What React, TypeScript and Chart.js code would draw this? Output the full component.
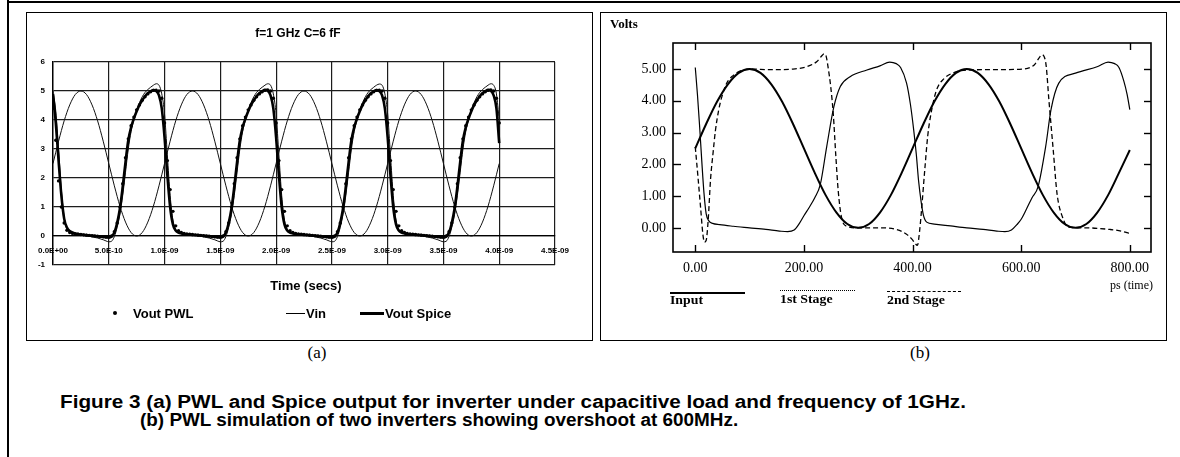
import React, { useEffect, useRef } from "react";
import { Chart, registerables } from "chart.js";

Chart.register(...registerables);

const SANS = "'Liberation Sans', Arial, Helvetica, sans-serif";
const SERIF = "'Liberation Serif', 'Times New Roman', Times, serif";

// ---------------- Figure (a) : f=1 GHz C=6 fF ----------------
const xTicksA = [0, 0.5, 1, 1.5, 2, 2.5, 3, 3.5, 4, 4.5];
const xTickLabelsA = ["0.0E+00", "5.0E-10", "1.0E-09", "1.5E-09", "2.0E-09", "2.5E-09", "3.0E-09", "3.5E-09", "4.0E-09", "4.5E-09"];
const yTicksA = [-1, 0, 1, 2, 3, 4, 5, 6];

// Vin (ns, volts)
const timeVin = [
  0, 0.05, 0.1, 0.15, 0.2, 0.25, 0.3, 0.35, 0.4, 0.45, 0.5, 0.55, 0.6, 0.65, 0.7, 0.75, 0.8, 0.85, 0.9, 0.95,
  1, 1.05, 1.1, 1.15, 1.2, 1.25, 1.3, 1.35, 1.4, 1.45, 1.5, 1.55, 1.6, 1.65, 1.7, 1.75, 1.8, 1.85, 1.9, 1.95,
  2, 2.05, 2.1, 2.15, 2.2, 2.25, 2.3, 2.35, 2.4, 2.45, 2.5, 2.55, 2.6, 2.65, 2.7, 2.75, 2.8, 2.85, 2.9, 2.95,
  3, 3.05, 3.1, 3.15, 3.2, 3.25, 3.3, 3.35, 3.4, 3.45, 3.5, 3.55, 3.6, 3.65, 3.7, 3.75, 3.8, 3.85, 3.9, 3.95,
  4,
];
const vin = [
  2.5, 3.27, 3.97, 4.52, 4.88, 5, 4.88, 4.52, 3.97, 3.27, 2.5, 1.73, 1.03, 0.48, 0.12, 0, 0.12, 0.48, 1.03, 1.73,
  2.5, 3.27, 3.97, 4.52, 4.88, 5, 4.88, 4.52, 3.97, 3.27, 2.5, 1.73, 1.03, 0.48, 0.12, 0, 0.12, 0.48, 1.03, 1.73,
  2.5, 3.27, 3.97, 4.52, 4.88, 5, 4.88, 4.52, 3.97, 3.27, 2.5, 1.73, 1.03, 0.48, 0.12, 0, 0.12, 0.48, 1.03, 1.73,
  2.5, 3.27, 3.97, 4.52, 4.88, 5, 4.88, 4.52, 3.97, 3.27, 2.5, 1.73, 1.03, 0.48, 0.12, 0, 0.12, 0.48, 1.03, 1.73,
  2.5,
];

// Output samples (ns)
const timeA = [
  0, 0.025, 0.05, 0.075, 0.1, 0.125, 0.15, 0.175, 0.2, 0.225, 0.25, 0.275, 0.3, 0.325, 0.35, 0.375, 0.4, 0.425, 0.45, 0.475,
  0.5, 0.525, 0.55, 0.575, 0.6, 0.625, 0.65, 0.675, 0.7, 0.725, 0.75, 0.775, 0.8, 0.825, 0.85, 0.875, 0.9, 0.925, 0.95, 0.975,
  1, 1.025, 1.05, 1.075, 1.1, 1.125, 1.15, 1.175, 1.2, 1.225, 1.25, 1.275, 1.3, 1.325, 1.35, 1.375, 1.4, 1.425, 1.45, 1.475,
  1.5, 1.525, 1.55, 1.575, 1.6, 1.625, 1.65, 1.675, 1.7, 1.725, 1.75, 1.775, 1.8, 1.825, 1.85, 1.875, 1.9, 1.925, 1.95, 1.975,
  2, 2.025, 2.05, 2.075, 2.1, 2.125, 2.15, 2.175, 2.2, 2.225, 2.25, 2.275, 2.3, 2.325, 2.35, 2.375, 2.4, 2.425, 2.45, 2.475,
  2.5, 2.525, 2.55, 2.575, 2.6, 2.625, 2.65, 2.675, 2.7, 2.725, 2.75, 2.775, 2.8, 2.825, 2.85, 2.875, 2.9, 2.925, 2.95, 2.975,
  3, 3.025, 3.05, 3.075, 3.1, 3.125, 3.15, 3.175, 3.2, 3.225, 3.25, 3.275, 3.3, 3.325, 3.35, 3.375, 3.4, 3.425, 3.45, 3.475,
  3.5, 3.525, 3.55, 3.575, 3.6, 3.625, 3.65, 3.675, 3.7, 3.725, 3.75, 3.775, 3.8, 3.825, 3.85, 3.875, 3.9, 3.925, 3.95, 3.975,
  4,
];

const voutPwl = [
  4.4, 3.3, 1.9, 1.0, 0.45, 0.2, 0.12, 0.09, 0.07, 0.06, 0.05, 0.04, 0.03, 0.02, 0.01, 0.0, -0.01, -0.02, -0.03, -0.04,
  -0.04, 0.0, 0.15, 0.45, 1.0, 1.8, 2.7, 3.35, 3.8, 4.1, 4.35, 4.52, 4.68, 4.8, 4.9, 4.97, 5.02, 5.03, 5.0, 4.75,
  3.9, 2.6, 1.6, 0.85, 0.35, 0.18, 0.12, 0.09, 0.07, 0.06, 0.05, 0.04, 0.03, 0.02, 0.01, 0.0, -0.01, -0.02, -0.03, -0.04,
  -0.04, 0.0, 0.15, 0.45, 1.0, 1.8, 2.7, 3.35, 3.8, 4.1, 4.35, 4.52, 4.68, 4.8, 4.9, 4.97, 5.02, 5.04, 5.0, 4.75,
  3.9, 2.6, 1.6, 0.85, 0.35, 0.18, 0.12, 0.09, 0.07, 0.06, 0.05, 0.04, 0.03, 0.02, 0.01, 0.0, -0.01, -0.02, -0.03, -0.04,
  -0.04, 0.0, 0.15, 0.45, 1.0, 1.8, 2.7, 3.35, 3.8, 4.1, 4.35, 4.52, 4.68, 4.8, 4.9, 4.97, 5.02, 5.03, 5.0, 4.75,
  3.9, 2.6, 1.6, 0.85, 0.35, 0.18, 0.12, 0.09, 0.07, 0.06, 0.05, 0.04, 0.03, 0.02, 0.01, 0.0, -0.01, -0.02, -0.03, -0.04,
  -0.04, 0.0, 0.15, 0.45, 1.0, 1.8, 2.7, 3.35, 3.8, 4.1, 4.35, 4.52, 4.68, 4.8, 4.9, 4.97, 5.02, 5.04, 5.0, 4.75,
  3.9,
];

const voutSpice = [
  4.9, 3.9, 2.6, 1.4, 0.6, 0.29, 0.17, 0.12, 0.09, 0.07, 0.05, 0.04, 0.03, 0.02, 0.01, 0.0, -0.01, -0.02, -0.03, -0.04,
  -0.05, -0.02, 0.12, 0.45, 0.95, 1.7, 2.55, 3.3, 3.75, 4.05, 4.3, 4.52, 4.68, 4.82, 4.92, 4.99, 5.03, 5.0, 4.85, 4.4,
  3.4, 2.1, 1.0, 0.4, 0.19, 0.12, 0.09, 0.07, 0.06, 0.05, 0.04, 0.035, 0.03, 0.02, 0.01, 0.0, -0.01, -0.02, -0.03, -0.04,
  -0.05, -0.02, 0.12, 0.45, 0.95, 1.7, 2.55, 3.3, 3.75, 4.05, 4.3, 4.52, 4.68, 4.82, 4.92, 4.99, 5.04, 5.01, 4.85, 4.4,
  3.4, 2.1, 1.0, 0.4, 0.19, 0.12, 0.09, 0.07, 0.06, 0.05, 0.04, 0.035, 0.03, 0.02, 0.01, 0.0, -0.01, -0.02, -0.03, -0.04,
  -0.05, -0.02, 0.12, 0.45, 0.95, 1.7, 2.55, 3.3, 3.75, 4.05, 4.3, 4.52, 4.68, 4.82, 4.92, 4.99, 5.03, 5.0, 4.85, 4.4,
  3.4, 2.1, 1.0, 0.4, 0.19, 0.12, 0.09, 0.07, 0.06, 0.05, 0.04, 0.035, 0.03, 0.02, 0.01, 0.0, -0.01, -0.02, -0.03, -0.04,
  -0.05, -0.02, 0.12, 0.45, 0.95, 1.7, 2.55, 3.3, 3.75, 4.05, 4.3, 4.52, 4.68, 4.82, 4.92, 4.99, 5.04, 5.01, 4.85, 4.4,
  3.2,
];

// thin unlabeled output trace with overshoot
const voutThin = [
  5.0, 4.3, 3.0, 1.6, 0.65, 0.27, 0.14, 0.09, 0.06, 0.04, 0.03, 0.02, 0.0, -0.01, -0.03, -0.05, -0.07, -0.1, -0.13, -0.17,
  -0.2, -0.18, -0.02, 0.3, 0.75, 1.4, 2.2, 3.0, 3.6, 4.0, 4.35, 4.6, 4.8, 4.95, 5.05, 5.13, 5.2, 5.25, 5.2, 4.9,
  4.2, 2.8, 1.4, 0.55, 0.22, 0.12, 0.08, 0.06, 0.05, 0.04, 0.03, 0.02, 0.0, -0.01, -0.03, -0.05, -0.07, -0.1, -0.13, -0.17,
  -0.2, -0.18, -0.02, 0.3, 0.75, 1.4, 2.2, 3.0, 3.6, 4.0, 4.35, 4.6, 4.8, 4.95, 5.05, 5.13, 5.2, 5.25, 5.2, 4.9,
  4.2, 2.8, 1.4, 0.55, 0.22, 0.12, 0.08, 0.06, 0.05, 0.04, 0.03, 0.02, 0.0, -0.01, -0.03, -0.05, -0.07, -0.1, -0.13, -0.17,
  -0.2, -0.18, -0.02, 0.3, 0.75, 1.4, 2.2, 3.0, 3.6, 4.0, 4.35, 4.6, 4.8, 4.95, 5.05, 5.13, 5.2, 5.24, 5.2, 4.9,
  4.2, 2.8, 1.4, 0.55, 0.22, 0.12, 0.08, 0.06, 0.05, 0.04, 0.03, 0.02, 0.0, -0.01, -0.03, -0.05, -0.07, -0.1, -0.13, -0.17,
  -0.2, -0.18, -0.02, 0.3, 0.75, 1.4, 2.2, 3.0, 3.6, 4.0, 4.35, 4.6, 4.8, 4.95, 5.05, 5.13, 5.2, 5.25, 5.2, 4.9,
  4.0,
];

// ---------------- Figure (b) : two inverters ----------------
const xTicksB = [0, 200, 400, 600, 800];
const yTicksB = [0, 1, 2, 3, 4, 5];

const inputTime = [
  0, 20, 40, 60, 80, 100, 120, 140, 160, 180, 200, 220, 240, 260, 280, 300, 320, 340, 360, 380,
  400, 420, 440, 460, 480, 500, 520, 540, 560, 580, 600, 620, 640, 660, 680, 700, 720, 740, 760, 780,
  800,
];
const inputV = [
  2.5, 3.27, 3.97, 4.52, 4.88, 5, 4.88, 4.52, 3.97, 3.27, 2.5, 1.73, 1.03, 0.48, 0.12, 0, 0.12, 0.48, 1.03, 1.73,
  2.5, 3.27, 3.97, 4.52, 4.88, 5, 4.88, 4.52, 3.97, 3.27, 2.5, 1.73, 1.03, 0.48, 0.12, 0, 0.12, 0.48, 1.03, 1.73,
  2.45,
];

const stage1Time = [
  0, 4, 8, 12, 16, 20, 25, 32, 45, 70, 100, 130, 155, 170, 182, 192, 200, 210, 220, 230,
  242, 255, 267, 285, 316, 340, 358, 370, 378, 389, 396, 402, 407, 411, 416, 420, 426, 440, 470, 500,
  530, 555, 570, 582, 592, 600, 610, 620, 631, 645, 655, 669, 700, 741, 760, 772, 780, 789, 795, 800,
];
const stage1V = [
  5.05, 4.2, 3.2, 2.1, 1.1, 0.45, 0.22, 0.14, 0.1, 0.05, 0.0, -0.05, -0.1, -0.12, -0.07, 0.15, 0.38, 0.65, 0.95, 1.35,
  2.56, 3.8, 4.45, 4.76, 4.97, 5.1, 5.22, 5.17, 5.05, 4.56, 3.9, 3.1, 2.3, 1.5, 0.8, 0.4, 0.18, 0.12, 0.06, 0.0,
  -0.05, -0.1, -0.12, -0.07, 0.1, 0.27, 0.6, 0.95, 1.29, 2.55, 3.73, 4.55, 4.87, 5.08, 5.22, 5.17, 5.05, 4.62, 4.2, 3.72,
];

const stage2Time = [
  0, 5, 10, 14, 17, 20, 24, 28, 33, 37, 43, 49, 58, 70, 83, 100, 140, 180, 206, 224,
  233, 237, 241, 245, 249, 254, 259, 263, 269, 279, 300, 340, 370, 389, 400, 405, 409, 413, 416, 423,
  428, 434, 444, 458, 472, 499, 550, 603, 624, 633, 638, 642, 646, 651, 659, 666, 676, 687, 720, 763,
  784, 800,
];
const stage2V = [
  2.55, 1.6, 0.6, -0.2, -0.45, -0.4, 0.3, 1.5, 2.4, 3.05, 3.7, 4.13, 4.56, 4.8, 4.94, 5.0, 4.98, 5.0, 5.08, 5.24,
  5.42, 5.48, 5.4, 5.0, 4.5, 3.6, 2.2, 1.2, 0.35, 0.05, 0.0, 0.0, -0.05, -0.2, -0.38, -0.5, -0.55, -0.1, 0.45, 1.93,
  2.9, 3.6, 4.33, 4.7, 4.86, 4.97, 4.98, 5.0, 5.13, 5.35, 5.45, 5.4, 5.1, 4.03, 2.45, 1.08, 0.34, 0.02, 0.0, -0.05,
  -0.1, -0.18,
];

const xy = (xs: number[], ys: number[]) => xs.map((x, i) => ({ x, y: ys[i] }));

const zeroPad = (s: any) => {
  s.paddingLeft = 0;
  s.paddingRight = 0;
  s.paddingTop = 0;
  s.paddingBottom = 0;
};

const frameTicksB = {
  id: "frameTicksB",
  afterDatasetsDraw(chart: any) {
    const { ctx, chartArea: a, scales } = chart;
    ctx.save();
    ctx.strokeStyle = "#000";
    ctx.lineWidth = 1.6;
    ctx.strokeRect(a.left, a.top, a.right - a.left, a.bottom - a.top);
    ctx.lineWidth = 1.4;
    const seg = (x1: number, y1: number, x2: number, y2: number) => {
      ctx.beginPath();
      ctx.moveTo(x1, y1);
      ctx.lineTo(x2, y2);
      ctx.stroke();
    };
    yTicksB.forEach((v) => {
      const y = Math.round(scales.y.getPixelForValue(v)) + 0.5;
      seg(a.left, y, a.left + 8, y);
      seg(a.right, y, a.right - 7, y);
    });
    xTicksB.forEach((v) => {
      const x = Math.round(scales.x.getPixelForValue(v)) + 0.5;
      seg(x, a.bottom, x, a.bottom - 7);
      seg(x, a.top, x, a.top + 7);
    });
    ctx.restore();
  },
};

const pos = (s: React.CSSProperties): React.CSSProperties => ({
  position: "absolute",
  whiteSpace: "pre",
  lineHeight: 1,
  color: "#000",
  ...s,
});

export default function App() {
  const refA = useRef<HTMLCanvasElement>(null);
  const refB = useRef<HTMLCanvasElement>(null);

  useEffect(() => {
    const gridA = { color: "#1c1c1c", lineWidth: 1.2, drawTicks: false };
    const chartA = new Chart(refA.current as HTMLCanvasElement, {
      type: "line",
      data: {
        datasets: [
          {
            label: "Vout PWL",
            data: xy(timeA, voutPwl),
            showLine: false,
            pointRadius: 1.7,
            pointBorderWidth: 0,
            pointBackgroundColor: "#000",
            borderColor: "#000",
          },
          {
            label: "Vout Spice",
            data: xy(timeA, voutSpice),
            borderColor: "#000",
            borderWidth: 2.6,
            pointRadius: 0,
            cubicInterpolationMode: "monotone",
          },
          {
            label: "",
            data: xy(timeA, voutThin),
            borderColor: "#111",
            borderWidth: 1,
            pointRadius: 0,
            cubicInterpolationMode: "monotone",
          },
          {
            label: "Vin",
            data: xy(timeVin, vin),
            borderColor: "#111",
            borderWidth: 1,
            pointRadius: 0,
            cubicInterpolationMode: "monotone",
          },
        ],
      },
      options: {
        animation: false,
        responsive: false,
        events: [],
        layout: { autoPadding: false, padding: { left: 0, right: 35, top: 48, bottom: 74 } },
        plugins: { legend: { display: false }, title: { display: false }, tooltip: { enabled: false } },
        scales: {
          x: {
            type: "linear",
            position: { y: 0 },
            min: 0,
            max: 4.5,
            afterBuildTicks: (s: any) => {
              s.ticks = xTicksA.map((v) => ({ value: v }));
            },
            afterFit: (s: any) => {
              s.height = 0;
              zeroPad(s);
            },
            grid: gridA,
            border: { display: true, color: "#000", width: 1.2 },
            ticks: {
              autoSkip: false,
              maxRotation: 0,
              padding: 10,
              color: "#000",
              font: { family: SANS, size: 8, weight: "bold" },
              callback: (v: any) => xTickLabelsA[xTicksA.indexOf(Number(v))] ?? "",
            },
          },
          y: {
            type: "linear",
            min: -1,
            max: 6,
            afterBuildTicks: (s: any) => {
              s.ticks = yTicksA.map((v) => ({ value: v }));
            },
            afterFit: (s: any) => {
              s.width = 26;
              zeroPad(s);
            },
            grid: gridA,
            border: { display: true, color: "#000", width: 1.4 },
            ticks: {
              padding: 8,
              color: "#000",
              font: { family: SANS, size: 8, weight: "bold" },
              callback: (v: any) => String(v),
            },
          },
        },
      } as any,
    });

    const chartB = new Chart(refB.current as HTMLCanvasElement, {
      type: "line",
      data: {
        datasets: [
          {
            label: "Input",
            data: xy(inputTime, inputV),
            borderColor: "#000",
            borderWidth: 2,
            pointRadius: 0,
            cubicInterpolationMode: "monotone",
          },
          {
            label: "1st Stage",
            data: xy(stage1Time, stage1V),
            borderColor: "#000",
            borderWidth: 1.2,
            pointRadius: 0,
            cubicInterpolationMode: "monotone",
          },
          {
            label: "2nd Stage",
            data: xy(stage2Time, stage2V),
            borderColor: "#000",
            borderWidth: 1.3,
            borderDash: [5, 3],
            pointRadius: 0,
            cubicInterpolationMode: "monotone",
          },
        ],
      },
      options: {
        animation: false,
        responsive: false,
        events: [],
        layout: { autoPadding: false, padding: { left: 0, right: 15, top: 29, bottom: 0 } },
        plugins: { legend: { display: false }, title: { display: false }, tooltip: { enabled: false } },
        scales: {
          x: {
            type: "linear",
            min: -41,
            max: 839,
            afterBuildTicks: (s: any) => {
              s.ticks = xTicksB.map((v) => ({ value: v }));
            },
            afterFit: (s: any) => {
              s.height = 87;
              zeroPad(s);
            },
            grid: { display: false, drawTicks: false },
            border: { display: false },
            ticks: {
              autoSkip: false,
              maxRotation: 0,
              padding: 8,
              color: "#000",
              font: { family: SERIF, size: 14 },
              callback: (v: any) => Number(v).toFixed(2),
            },
          },
          y: {
            type: "linear",
            min: -0.76,
            max: 5.82,
            afterBuildTicks: (s: any) => {
              s.ticks = yTicksB.map((v) => ({ value: v }));
            },
            afterFit: (s: any) => {
              s.width = 71;
              zeroPad(s);
            },
            grid: { display: false, drawTicks: false },
            border: { display: false },
            ticks: {
              padding: 7,
              color: "#000",
              font: { family: SERIF, size: 14 },
              callback: (v: any) => Number(v).toFixed(2),
            },
          },
        },
      } as any,
      plugins: [frameTicksB],
    });

    return () => {
      chartA.destroy();
      chartB.destroy();
    };
  }, []);

  const box = (left: number, top: number, w: number, h: number): React.CSSProperties => ({
    position: "absolute",
    left,
    top,
    width: w,
    height: h,
    border: "1.5px solid #000",
    boxSizing: "border-box",
  });

  return (
    <div
      style={{
        position: "absolute",
        left: 0,
        top: 0,
        width: 1180,
        height: 457,
        background: "#fff",
        overflow: "hidden",
      }}
    >
      {/* outer frame */}
      <div style={{ position: "absolute", left: 7, top: 0, width: 2, height: 457, background: "#000" }} />
      <div style={{ position: "absolute", left: 7, top: 1, width: 1173, height: 2, background: "#000" }} />

      {/* panel boxes */}
      <div style={box(26, 12, 567, 329)} />
      <div style={box(600, 12, 567, 329)} />

      <canvas ref={refA} width={563} height={325} style={{ position: "absolute", left: 27, top: 14, display: "block" }} />
      <canvas ref={refB} width={564} height={325} style={{ position: "absolute", left: 602, top: 14, display: "block" }} />

      {/* (a) texts */}
      <div style={pos({ left: 298, top: 33, transform: "translate(-50%,-50%)", font: `bold 12px ${SANS}` })}>
        f=1 GHz C=6 fF
      </div>
      <div style={pos({ left: 306, top: 285, transform: "translate(-50%,-50%)", font: `bold 13px ${SANS}` })}>
        Time (secs)
      </div>
      {/* (a) legend */}
      <div style={{ position: "absolute", left: 113, top: 311, width: 4, height: 4, borderRadius: 2, background: "#000" }} />
      <div style={pos({ left: 133, top: 313, transform: "translateY(-50%)", font: `bold 13px ${SANS}` })}>Vout PWL</div>
      <div style={{ position: "absolute", left: 286, top: 313, width: 19, height: 1, background: "#000" }} />
      <div style={pos({ left: 306, top: 313, transform: "translateY(-50%)", font: `bold 13px ${SANS}` })}>Vin</div>
      <div style={{ position: "absolute", left: 360, top: 312, width: 24, height: 2.5, background: "#000" }} />
      <div style={pos({ left: 385, top: 313, transform: "translateY(-50%)", font: `bold 13px ${SANS}` })}>Vout Spice</div>

      {/* (b) texts */}
      <div style={pos({ left: 610, top: 24, transform: "translateY(-50%)", font: `bold 13px ${SERIF}` })}>Volts</div>
      <div style={pos({ left: 1153, top: 285, transform: "translate(-100%,-50%)", font: `12px ${SERIF}` })}>ps (time)</div>
      {/* (b) legend */}
      <div style={{ position: "absolute", left: 670, top: 292, width: 75, height: 2, background: "#000" }} />
      <div
        style={pos({
          left: 670,
          top: 300,
          transform: "translateY(-50%) scaleX(1.15)",
          transformOrigin: "left center",
          font: `bold 12px ${SERIF}`,
        })}
      >
        Input
      </div>
      <div style={{ position: "absolute", left: 780, top: 290, width: 75, height: 0, borderTop: "1px dotted #000" }} />
      <div
        style={pos({
          left: 780,
          top: 299,
          transform: "translateY(-50%) scaleX(1.15)",
          transformOrigin: "left center",
          font: `bold 12px ${SERIF}`,
        })}
      >
        1st Stage
      </div>
      <div style={{ position: "absolute", left: 887, top: 291, width: 74, height: 0, borderTop: "1.2px dashed #000" }} />
      <div
        style={pos({
          left: 887,
          top: 300,
          transform: "translateY(-50%) scaleX(1.15)",
          transformOrigin: "left center",
          font: `bold 12px ${SERIF}`,
        })}
      >
        2nd Stage
      </div>

      {/* sub-captions */}
      <div style={pos({ left: 317, top: 353, transform: "translate(-50%,-50%)", font: `17px ${SERIF}` })}>(a)</div>
      <div style={pos({ left: 920, top: 353, transform: "translate(-50%,-50%)", font: `17px ${SERIF}` })}>(b)</div>

      {/* figure caption */}
      <div
        style={pos({
          left: 60,
          top: 402,
          transform: "translateY(-50%) scaleX(1.15)",
          transformOrigin: "left center",
          font: `bold 18px ${SANS}`,
        })}
      >
        Figure 3 (a) PWL and Spice output for inverter under capacitive load and frequency of 1GHz.
      </div>
      <div
        style={pos({
          left: 140,
          top: 420,
          transform: "translateY(-50%) scaleX(1.05)",
          transformOrigin: "left center",
          font: `bold 18px ${SANS}`,
        })}
      >
        (b) PWL simulation of two inverters showing overshoot at 600MHz.
      </div>
    </div>
  );
}
